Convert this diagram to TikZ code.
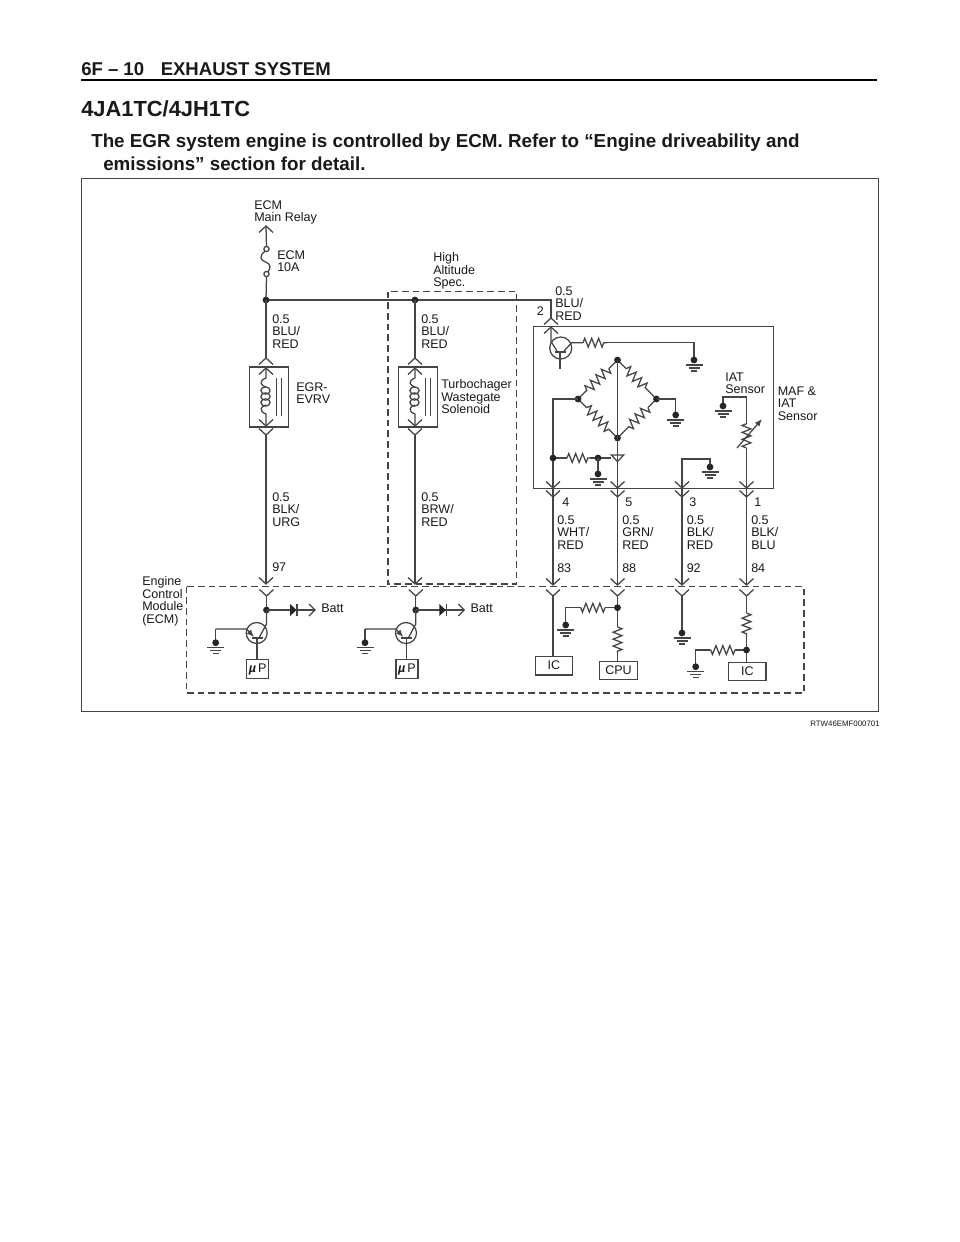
\documentclass[tikz,border=0pt]{standalone}
\usepackage{fontspec}
\setmainfont{Liberation Sans}
\usetikzlibrary{arrows.meta,decorations.pathmorphing,calc}
\definecolor{ink}{gray}{0.27}
\definecolor{txt}{gray}{0.1}
\tikzset{
  wire/.style={draw=ink,line width=0.95pt},
  boxl/.style={draw=ink,line width=0.95pt},
  dashln/.style={draw=ink,line width=0.85pt,dash pattern=on 5pt off 3pt},
  zz/.style={decorate,decoration={zigzag,segment length=5.2pt,amplitude=3.3pt}},
  zzb/.style={decorate,decoration={zigzag,segment length=5.8pt,amplitude=3.5pt}},
  lbl/.style={anchor=north west,inner sep=0pt,align=left,text=txt,font=\fontsize{9.4}{9.3}\selectfont},
  boxt/.style={draw=ink,line width=0.95pt,inner sep=0pt,anchor=north west,text=txt,font=\fontsize{9.4}{9.3}\selectfont},
  head/.style={anchor=base west,inner sep=0pt,text=txt,font=\bfseries}
}
\newcommand{\chup}[2]{\draw[wire] (#1-7,#2+6.5) -- (#1,#2) -- (#1+7,#2+6.5);}
\newcommand{\chdn}[2]{\draw[wire] (#1-7,#2-6.5) -- (#1,#2) -- (#1+7,#2-6.5);}
\newcommand{\jdot}[1]{\fill[black!85] (#1) circle[radius=3.4];}
\newcommand{\gnd}[3]{\coordinate (#1) at (#2,#3);
  \fill[black!85] (#1) circle[radius=3.4];
  \draw[wire] (#2-8.5,#3+5) -- (#2+8.5,#3+5) (#2-5.5,#3+8) -- (#2+5.5,#3+8) (#2-3,#3+11) -- (#2+3,#3+11);}
\newcommand{\lab}[4]{\node[lbl] (#1) at (#2,#3) {#4};}
\begin{document}
\begin{tikzpicture}[x=0.75pt,y=-0.75pt]
\useasboundingbox (0,0) rectangle (960,1242);
\fill[white] (0,0) rectangle (960,1242);
% heading
\node[head,font=\bfseries\fontsize{13.9}{15}\selectfont] (title) at (81,75.5) {6F – 10\hspace{0.9em}EXHAUST SYSTEM};
\coordinate (ruleL) at (81,79.5); \coordinate (ruleR) at (877,79.5);
\draw[black,line width=1.5pt] (ruleL) -- (ruleR);
\node[head,font=\bfseries\fontsize{16.4}{18}\selectfont] (sub) at (81,116) {4JA1TC/4JH1TC};
\node[head,font=\bfseries\fontsize{14.1}{17}\selectfont] (par1) at (91,147) {The EGR system engine is controlled by ECM. Refer to “Engine driveability and};
\node[head,font=\bfseries\fontsize{14.1}{17}\selectfont] (par2) at (103,170) {emissions” section for detail.};
\node (frame) [draw=ink,line width=0.95pt,inner sep=0pt,minimum width=597.75pt,minimum height=399.75pt,anchor=north west] at (81,178) {};
\node[anchor=base east,inner sep=0pt,text=txt,font=\fontsize{5.9}{7}\selectfont] (code) at (880,726) {RTW46EMF000701};
% dashed zones
\draw[dashln] (388,291.7) rectangle (516.7,584);
\draw[dashln] (186.7,586.7) rectangle (804,693);
% supply line
\coordinate (relay) at (266,226);
\coordinate (fuseT) at (266.5,249);
\coordinate (fuseB) at (266.5,274);
\coordinate (j1) at (266,300);
\coordinate (j2) at (415,300);
\coordinate (corner) at (551,300);
\coordinate (pin2) at (551,318);
\chup{266}{226}
\draw[wire] (relay) -- ($(fuseT)+(0,-2.5)$);
\draw[wire,fill=white] (fuseT) circle[radius=2.6];
\draw[wire,fill=white] (fuseB) circle[radius=2.6];
\draw[wire] ($(fuseT)+(-1.5,2.2)$) .. controls (259,256) and (260,260) .. (265.5,262) .. controls (271,264) and (271,268) .. ($(fuseB)+(1.5,-2.2)$);
\draw[wire] ($(fuseB)+(0,2.5)$) -- (j1);
\draw[wire] (j1) -- (corner) -- (pin2);
\jdot{j1} \jdot{j2}
% solenoids and their lines
\foreach \cx/\tp/\nm in {266/j1/a,415/j2/b}{
  \coordinate (sol\nm top) at (\cx,358);
  \coordinate (sol\nm bot) at (\cx,435);
  \coordinate (sol\nm in) at (\cx,368);
  \coordinate (sol\nm out) at (\cx,426);
  \coordinate (ecm\nm) at (\cx,584);
  \draw[wire] (\tp) -- (sol\nm top);
  \draw[boxl] (\cx-16.3,367) rectangle (\cx+22.5,427);
  \chup{\cx}{358} \chup{\cx}{368}
  \chdn{\cx}{426} \chdn{\cx}{435}
  \draw[wire] (sol\nm in) -- (\cx,378) .. controls (\cx-8,381) and (\cx-5,386) .. (\cx,387);
  \draw[wire] (\cx,405) .. controls (\cx-5,406) and (\cx-8,411) .. (\cx,414) -- (sol\nm out);
  \foreach \cy in {390.5,396.5,402.5}{\draw[wire] (\cx-0.5,\cy) ellipse[x radius=4.6,y radius=3.6];}
  \draw[wire] (\cx+10.7,378) -- (\cx+10.7,416) (\cx+15.7,378) -- (\cx+15.7,416);
  \draw[wire] (sol\nm bot) -- (ecm\nm);
  \chdn{\cx}{584}
}
% ECM drivers
\foreach \ox/\nm in {0/a,149.3/b}{
\begin{scope}[shift={(\ox,0)}]
  \coordinate (p\nm) at (266.5,596);
  \coordinate (n\nm) at (266.5,610);
  \coordinate (bt\nm) at (315,610);
  \coordinate (em\nm) at (215.7,629);
  \chdn{266.5}{596}
  \draw[wire] (p\nm) -- (n\nm);
  \jdot{n\nm}
  \draw[wire] (n\nm) -- (bt\nm);
  \fill[black!85] (290,604) -- (296.5,610) -- (290,616) -- cycle;
  \draw[wire] (297,604) -- (297,616);
  \draw[wire] (309,604) -- (bt\nm) -- (309,616);
  \draw[wire] (256.7,633) circle[radius=10.5];
  \draw[wire] (n\nm) -- (266.5,624) -- (259.5,637);
  \draw[wire,line width=1.5pt] (251.5,638.3) -- (263,638.3);
  \draw[wire,-{Latex[length=5.5pt,width=4.5pt]}] (em\nm) -- (246.5,629) -- (254,637);
  \draw[wire] (em\nm) -- (215.7,642);
  \gnd{g\nm}{215.7}{642.7}
  \node[boxt,minimum width=16.5pt,minimum height=14.2pt] (mu\nm) at (246,659) {{\bfseries\itshape µ}\,P};
  \draw[wire] (257,638.3) -- (257,659);
  \lab{batt\nm}{321}{603.5}{Batt}
\end{scope}
}
% MAF box
\node (maf) [draw=ink,line width=0.95pt,inner sep=0pt,minimum width=180pt,minimum height=121.5pt,anchor=north west] at (533,326) {};
\chup{551}{318} \chup{551}{327}
\coordinate (tc) at (560.7,348);
\draw[wire] (551,327) -- (551,341.5) -- (557,351);
\draw[wire] (tc) circle[radius=11];
\draw[wire,line width=1.5pt] (554.5,351.5) -- (566,351.5);
\draw[wire] (560,351.5) -- (560,369);
\coordinate (rs1) at (583,342.7);
\coordinate (rs2) at (607,342.7);
\coordinate (g1t) at (694,342.7);
\draw[wire] (564,351) -- (571.7,342.7) -- (rs1);
\draw[wire,zz] (rs1) -- (rs2);
\draw[wire] (rs2) -- (g1t) -- (694,360);
\gnd{g1}{694}{360}
% bridge
\coordinate (bt) at (617.5,360);
\coordinate (bl) at (578,399);
\coordinate (br) at (656.5,399);
\coordinate (bb) at (617.5,438);
\foreach \a/\b in {bt/bl,bt/br,bl/bb,br/bb}{
  \draw[wire] (\a) -- ($(\a)!0.22!(\b)$);
  \draw[wire,zzb] ($(\a)!0.22!(\b)$) -- ($(\a)!0.78!(\b)$);
  \draw[wire] ($(\a)!0.78!(\b)$) -- (\b);
}
\jdot{bt} \jdot{bl} \jdot{br} \jdot{bb}
\coordinate (pin4) at (553,488);
\coordinate (pin5) at (617.5,488);
\coordinate (pin3) at (682,488);
\coordinate (pin1) at (746.5,488);
\coordinate (j458) at (553,458);
\coordinate (j598) at (598,458);
\draw[wire] (bt) -- (pin5);
\draw[wire] (bl) -- (553,399) -- (pin4);
\draw[wire] (br) -- (675.7,399) -- (675.7,415);
\gnd{g2}{675.7}{415}
\draw[wire] (j458) -- (567,458);
\draw[wire,zz] (567,458) -- (590,458);
\draw[wire] (590,458) -- (j598) -- (611.3,458);
\draw[wire] (611.3,455) -- (623.7,455) -- (617.5,461.6) -- cycle;
\jdot{j458} \jdot{j598}
\draw[wire] (j598) -- (598,474);
\gnd{g3}{598}{474}
\draw[wire] (pin3) -- (682,459) -- (710,459) -- (710,467);
\gnd{g4}{710}{467}
\coordinate (vr1) at (746.5,448);
\coordinate (vr2) at (746.5,423);
\draw[wire] (pin1) -- (vr1);
\draw[wire,zz] (vr1) -- (vr2);
\draw[wire] (vr2) -- (746.5,397) -- (723,397) -- (723,406);
\gnd{g5}{723}{406}
\draw[wire,-{Latex[length=5.5pt,width=4.5pt]}] (737,448) -- (762,419);
% pins and runs to ECM
\foreach \px/\nn in {553/4,617.5/5,682/3,746.5/1}{
  \chdn{\px}{488} \chdn{\px}{497}
  \draw[wire] (\px,488) -- (\px,585);
  \chdn{\px}{585} \chdn{\px}{596}
}
% ECM inputs
\node[boxt,minimum width=28pt,minimum height=14pt] (ic1) at (534.7,655.7) {IC};
\node[boxt,minimum width=28.3pt,minimum height=13.3pt] (cpu) at (599,661) {CPU};
\node[boxt,minimum width=28pt,minimum height=13.8pt] (ic2) at (728,661.7) {IC};
\coordinate (q5) at (617.5,607.7);
\coordinate (q1) at (746.5,650);
\draw[wire] (553,596) -- (553,655.7);
\draw[wire] (617.5,596) -- (q5) -- (617.5,627);
\draw[wire,zz] (617.5,627) -- (617.5,653);
\draw[wire] (617.5,653) -- (617.5,661);
\draw[wire] (q5) -- (605,607.7);
\draw[wire,zz] (605,607.7) -- (580,607.7);
\draw[wire] (580,607.7) -- (565.7,607.7) -- (565.7,625);
\gnd{g6}{565.7}{625}
\jdot{q5}
\draw[wire] (682,596) -- (682,633);
\gnd{g7}{682}{633}
\draw[wire] (746.5,596) -- (746.5,613);
\draw[wire,zz] (746.5,613) -- (746.5,637);
\draw[wire] (746.5,637) -- (q1) -- (746.5,661.7);
\draw[wire] (q1) -- (735,650);
\draw[wire,zz] (735,650) -- (710,650);
\draw[wire] (710,650) -- (695.7,650) -- (695.7,666.7);
\gnd{g8}{695.7}{666.7}
\jdot{q1}
% labels
\lab{t1}{254}{200.5}{ECM\\Main Relay}
\lab{t2}{277}{250.5}{ECM\\10A}
\lab{t3}{433}{252.5}{High\\Altitude\\Spec.}
\lab{t4}{272}{314.5}{0.5\\BLU/\\RED}
\lab{t5}{421}{314.5}{0.5\\BLU/\\RED}
\lab{t6}{555}{286.5}{0.5\\BLU/\\RED}
\lab{t7}{536.5}{306.5}{2}
\lab{t8}{296}{382.5}{EGR-\\EVRV}
\lab{t9}{441}{379.5}{Turbochager\\Wastegate\\Solenoid}
\lab{t10}{725}{372.5}{IAT\\Sensor}
\lab{t11}{777.5}{386.5}{MAF \&\\IAT\\Sensor}
\lab{t12}{272}{492.5}{0.5\\BLK/\\URG}
\lab{t13}{421}{492.5}{0.5\\BRW/\\RED}
\lab{t14}{272}{562.5}{97}
\lab{t15}{142}{576.5}{Engine\\Control\\Module\\(ECM)}
\lab{p4}{562}{497.5}{4}
\lab{p5}{625}{497.5}{5}
\lab{p3}{689}{497.5}{3}
\lab{p1}{754}{497.5}{1}
\lab{w4}{557}{515.5}{0.5\\WHT/\\RED}
\lab{w5}{622}{515.5}{0.5\\GRN/\\RED}
\lab{w3}{686.5}{515.5}{0.5\\BLK/\\RED}
\lab{w1}{751}{515.5}{0.5\\BLK/\\BLU}
\lab{c4}{557}{563.5}{83}
\lab{c5}{622}{563.5}{88}
\lab{c3}{686.5}{563.5}{92}
\lab{c1}{751}{563.5}{84}
\end{tikzpicture}
\end{document}
